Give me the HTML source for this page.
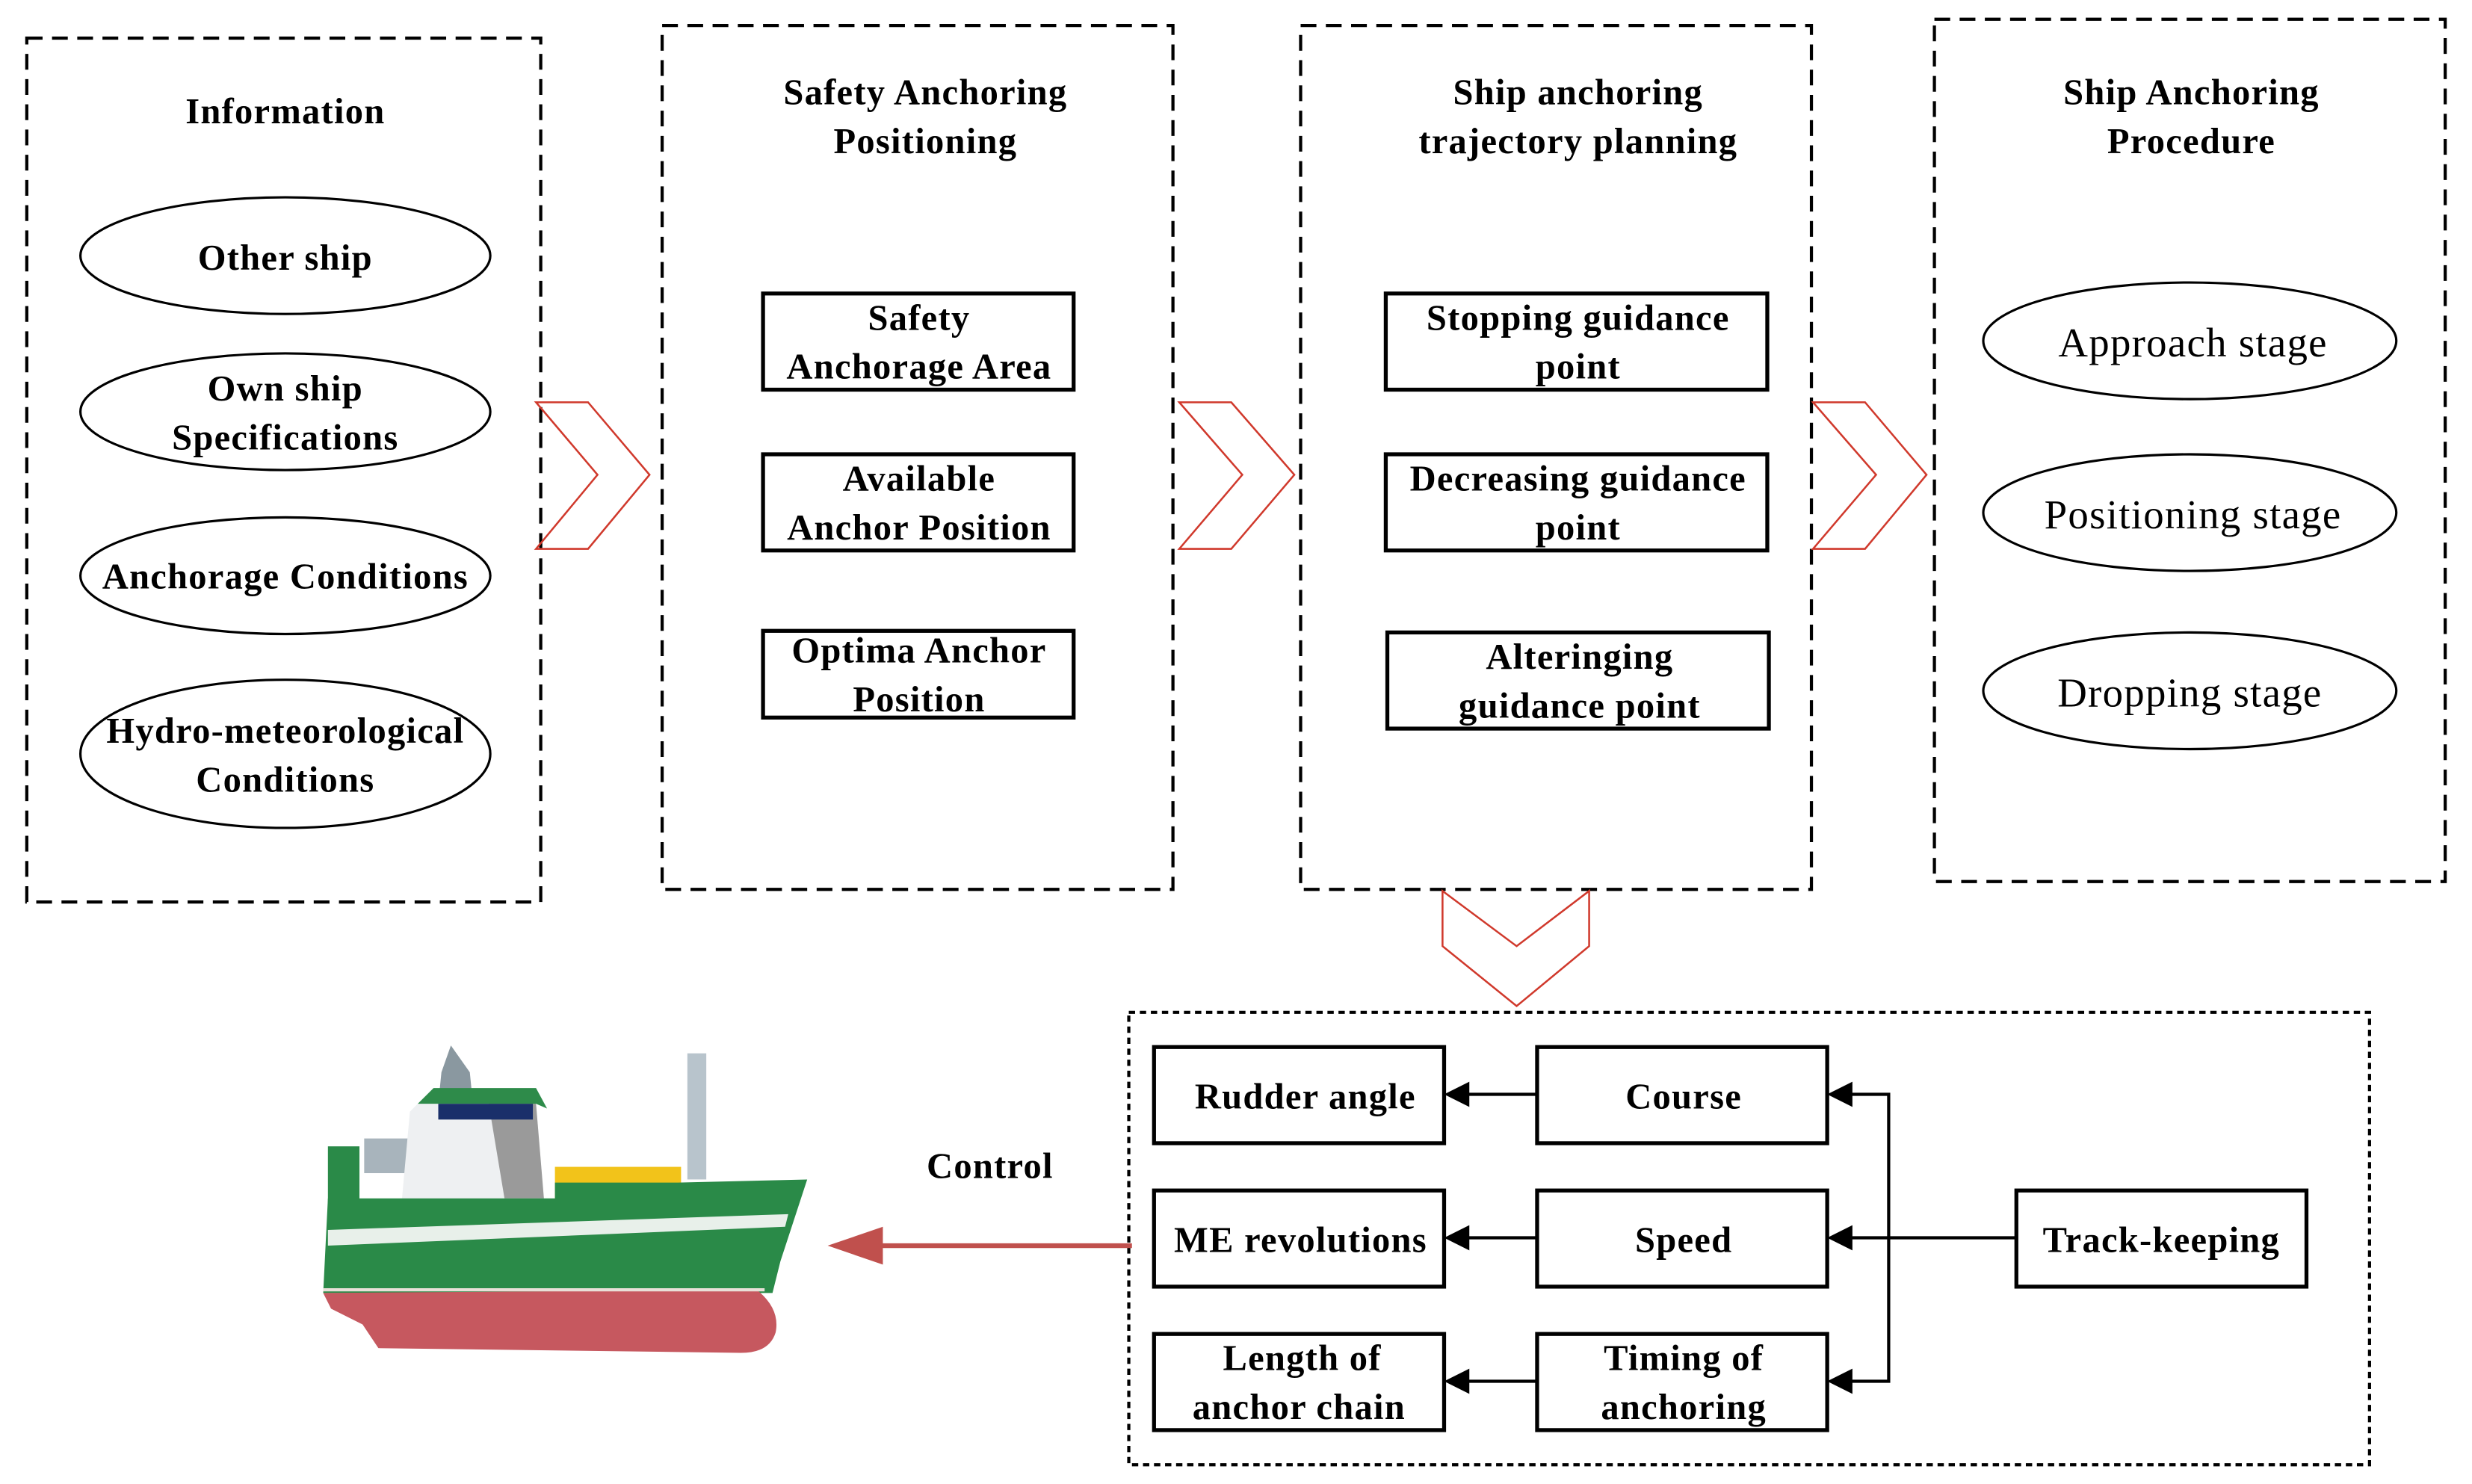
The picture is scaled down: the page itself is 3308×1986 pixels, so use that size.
<!DOCTYPE html>
<html><head><meta charset="utf-8"><style>
html,body{margin:0;padding:0;background:#fff;}
svg{display:block}
text{font-family:"Liberation Serif",serif;font-weight:bold;fill:#000;text-anchor:middle;letter-spacing:0.6px}
.r{font-weight:normal}
</style></head><body>
<svg width="3308" height="1986" viewBox="0 0 1568 941" xmlns="http://www.w3.org/2000/svg">
<g fill="none" stroke="#000" stroke-width="2" stroke-dasharray="10,6">
<rect x="17" y="24" width="326" height="548"/>
<rect x="420" y="16" width="324" height="548"/>
<rect x="825" y="16" width="324" height="548"/>
<rect x="1227" y="12" width="324" height="547"/>
</g>
<rect x="716" y="642" width="787" height="287" fill="none" stroke="#000" stroke-width="2" stroke-dasharray="4,3"/>
<g font-size="23">
<text x="181" y="78">Information</text>
<text x="587" y="66">Safety Anchoring</text><text x="587" y="97">Positioning</text>
<text x="1001" y="66">Ship anchoring</text><text x="1001" y="97">trajectory planning</text>
<text x="1390" y="66">Ship Anchoring</text><text x="1390" y="97">Procedure</text>
</g>
<g fill="none" stroke="#000" stroke-width="1.5">
<ellipse cx="181" cy="162" rx="130" ry="37"/>
<ellipse cx="181" cy="261" rx="130" ry="37"/>
<ellipse cx="181" cy="365" rx="130" ry="37"/>
<ellipse cx="181" cy="478" rx="130" ry="47"/>
<ellipse cx="1389" cy="216" rx="131" ry="37"/>
<ellipse cx="1389" cy="325" rx="131" ry="37"/>
<ellipse cx="1389" cy="438" rx="131" ry="37"/>
</g>
<g font-size="23">
<text x="181" y="171">Other ship</text>
<text x="181" y="254">Own ship</text><text x="181" y="285">Specifications</text>
<text x="181" y="373">Anchorage Conditions</text>
<text x="181" y="471">Hydro-meteorological</text><text x="181" y="502">Conditions</text>
</g>
<g font-size="26">
<text class="r" x="1391" y="226">Approach stage</text>
<text class="r" x="1391" y="335">Positioning stage</text>
<text class="r" x="1389" y="448">Dropping stage</text>
</g>
<g fill="none" stroke="#000" stroke-width="2.5">
<rect x="484" y="186" width="197" height="61"/>
<rect x="484" y="288" width="197" height="61"/>
<rect x="484" y="400" width="197" height="55"/>
<rect x="879" y="186" width="242" height="61"/>
<rect x="879" y="288" width="242" height="61"/>
<rect x="880" y="401" width="242" height="61"/>
<rect x="732" y="664" width="184" height="61"/>
<rect x="732" y="755" width="184" height="61"/>
<rect x="732" y="846" width="184" height="61"/>
<rect x="975" y="664" width="184" height="61"/>
<rect x="975" y="755" width="184" height="61"/>
<rect x="975" y="846" width="184" height="61"/>
<rect x="1279" y="755" width="184" height="61"/>
</g>
<g font-size="23">
<text x="583" y="209">Safety</text><text x="583" y="240">Anchorage Area</text>
<text x="583" y="311">Available</text><text x="583" y="342">Anchor Position</text>
<text x="583" y="420">Optima Anchor</text><text x="583" y="451">Position</text>
<text x="1001" y="209">Stopping guidance</text><text x="1001" y="240">point</text>
<text x="1001" y="311">Decreasing guidance</text><text x="1001" y="342">point</text>
<text x="1002" y="424">Alteringing</text><text x="1002" y="455">guidance point</text>
<text x="828" y="703">Rudder angle</text>
<text x="825" y="794">ME revolutions</text>
<text x="826" y="869">Length of</text><text x="824" y="900">anchor chain</text>
<text x="1068" y="703">Course</text>
<text x="1068" y="794">Speed</text>
<text x="1068" y="869">Timing of</text><text x="1068" y="900">anchoring</text>
<text x="1371" y="794">Track-keeping</text>
<text x="628" y="747">Control</text>
</g>
<g fill="none" stroke="#d0392c" stroke-width="1.2">
<polygon points="340,255 373,255 412,301 373,348 340,348 379,301"/>
<polygon points="748,255 781,255 821,301 781,348 748,348 788,301"/>
<polygon points="1150,255 1183,255 1222,301 1183,348 1150,348 1190,301"/>
<polygon points="915,565 915,600 962,638 1008,600 1008,565 962,600"/>
</g>
<g stroke="#000" stroke-width="2" fill="none">
<line x1="975" y1="694" x2="930" y2="694"/>
<line x1="975" y1="785" x2="930" y2="785"/>
<line x1="975" y1="876" x2="930" y2="876"/>
<line x1="1279" y1="785" x2="1174" y2="785"/>
<polyline points="1174,694 1198,694 1198,876 1174,876"/>
</g>
<g fill="#000">
<polygon points="916,694 932,686 932,702"/>
<polygon points="916,785 932,777 932,793"/>
<polygon points="916,876 932,868 932,884"/>
<polygon points="1159,694 1175,686 1175,702"/>
<polygon points="1159,785 1175,777 1175,793"/>
<polygon points="1159,876 1175,868 1175,884"/>
</g>
<line x1="718" y1="790" x2="555" y2="790" stroke="#c0504d" stroke-width="3"/>
<polygon points="525,790 560,778 560,802" fill="#c0504d"/>
<g>
<rect x="436" y="668" width="12" height="80" fill="#b8c4cc"/>
<polygon points="286,663 280,680 278,700 300,700 298,680" fill="#8a98a0"/>
<rect x="231" y="722" width="40" height="22" fill="#a8b4bc"/>
<polygon points="260,705 270,695 330,693 340,700 345,760 255,760" fill="#eef0f2"/>
<polygon points="310,700 340,700 345,760 320,760" fill="#9a9a9a"/>
<polygon points="265,700 275,690 340,690 347,703 340,700" fill="#2e8b4a"/>
<rect x="278" y="700" width="60" height="10" fill="#1a2f6a"/>
<rect x="352" y="740" width="80" height="20" fill="#f2c31a"/>
<polygon points="208,760 205,820 490,820 495,800 512,748 430,750 352,750 352,760" fill="#2a8a48"/>
<rect x="208" y="727" width="20" height="40" fill="#2a8a48"/>
<polygon points="208,780 500,770 498,778 208,790" fill="#e8f0ea"/>
<path d="M205,820 L480,818 Q495,830 492,845 Q488,858 470,858 L240,855 L230,840 L210,830 Z" fill="#c6585f"/>
<line x1="205" y1="818" x2="485" y2="818" stroke="#e8e0d8" stroke-width="2"/>
</g>
</svg>
</body></html>
